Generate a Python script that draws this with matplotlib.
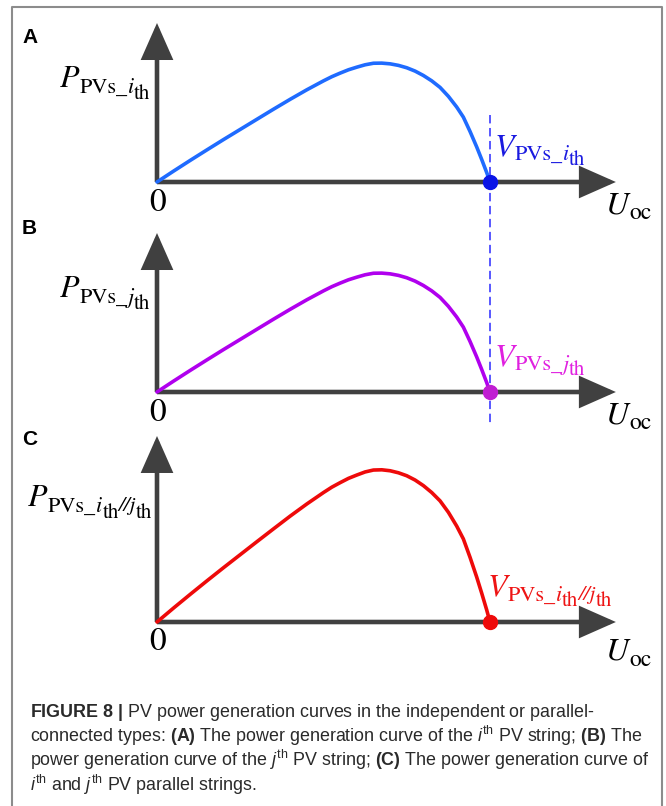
import matplotlib
matplotlib.use("Agg")
import matplotlib.pyplot as plt
from matplotlib.lines import Line2D

plt.rcParams["mathtext.fontset"] = "custom"
plt.rcParams["mathtext.rm"] = "Liberation Sans"
plt.rcParams["mathtext.it"] = "Liberation Sans:italic"
plt.rcParams["mathtext.bf"] = "Liberation Sans:bold"

# ---- data: P-U curves, voltage normalised to the open-circuit voltage ----
u_norm = [0.00, 0.05, 0.10, 0.15, 0.20, 0.25, 0.30, 0.35, 0.40, 0.45, 0.50,
          0.525, 0.55, 0.575, 0.60, 0.625, 0.65, 0.675, 0.70, 0.725, 0.75,
          0.775, 0.80, 0.825, 0.85, 0.875, 0.90, 0.92, 0.94, 0.96, 0.975,
          0.99, 1.00]
p_string_i = [0.000, 0.092, 0.182, 0.270, 0.357, 0.442, 0.527, 0.612, 0.695,
              0.775, 0.850, 0.885, 0.915, 0.943, 0.965, 0.985, 0.998, 0.999,
              0.993, 0.980, 0.960, 0.932, 0.895, 0.850, 0.795, 0.720, 0.630,
              0.545, 0.425, 0.295, 0.190, 0.080, 0.000]
p_string_j = [0.000, 0.092, 0.182, 0.270, 0.357, 0.442, 0.527, 0.612, 0.695,
              0.775, 0.850, 0.885, 0.915, 0.943, 0.965, 0.985, 0.998, 0.999,
              0.993, 0.980, 0.960, 0.932, 0.895, 0.850, 0.795, 0.720, 0.630,
              0.545, 0.425, 0.295, 0.190, 0.080, 0.000]
p_parallel = [0.000, 0.118, 0.233, 0.346, 0.457, 0.566, 0.675, 0.783, 0.890,
              0.992, 1.088, 1.133, 1.171, 1.207, 1.235, 1.261, 1.277, 1.279,
              1.271, 1.254, 1.229, 1.193, 1.146, 1.088, 1.018, 0.922, 0.806,
              0.698, 0.544, 0.378, 0.243, 0.102, 0.000]
u_oc = 1.0

panel_letters = ["A", "B", "C"]
# label pieces: (text, size in pt, drop below the main baseline in px, italic)
p_labels = [
    [("P", 23, 0, True), ("PVs_", 16, 6, False), ("i", 16, 6, True), ("th", 15, 12, False)],
    [("P", 23, 0, True), ("PVs_", 16, 6, False), ("j", 16, 6, True), ("th", 15, 12, False)],
    [("P", 23, 0, True), ("PVs_", 16, 6, False), ("i", 16, 6, True), ("th", 15, 12, False),
     ("//j", 15, 5, True), ("th", 15, 12, False)],
]
v_labels = [
    [("V", 23, 0, True), ("PVs_", 16, 5, False), ("i", 16, 5, True), ("th", 15, 10, False)],
    [("V", 23, 0, True), ("PVs_", 16, 5, False), ("j", 16, 5, True), ("th", 15, 10, False)],
    [("V", 23, 0, True), ("PVs_", 16, 6, False), ("i", 16, 6, True), ("th", 15, 11, False),
     ("//j", 15, 5, True), ("th", 15, 11, False)],
]
u_label = [("U", 23, 0, True), ("oc", 17, 6, False)]

caption_lines = [
    r"$\mathbf{FIGURE\ 8\ |}$ PV power generation curves in the independent or parallel-",
    r"connected types: $\mathbf{(A)}$ The power generation curve of the $i^{\mathrm{th}}$ PV string; $\mathbf{(B)}$ The",
    r"power generation curve of the $j^{\mathrm{th}}$ PV string; $\mathbf{(C)}$ The power generation curve of",
    r"$i^{\mathrm{th}}$ and $j^{\mathrm{th}}$ PV parallel strings.",
]

# ---- layout (pixels) ----
W, H, DPI = 666, 806, 100
SX, SY = 333.0, 119.0          # pixels per data unit
OX = 157.0                     # x pixel of the origin
origins_y = [182.0, 392.0, 622.0]
y_tips = [1.336, 1.336, 1.563]  # y-axis arrow length (data units)
x_tip = 1.378

curve_colors = ["#1f6bff", "#b000ee", "#ee0a0a"]
dot_colors = ["#0a14e6", "#c01ed2", "#ee0a0a"]
label_colors = ["#1a1ae0", "#e020e0", "#ee1414"]
axis_color = "#404040"

fig = plt.figure(figsize=(W / DPI, H / DPI), dpi=DPI)
fig.patch.set_facecolor("white")
renderer = fig.canvas.get_renderer()


def fxy(px, py):
    return px / W, 1 - py / H


def rich_label(x, yb, pieces, color="black", ha="left"):
    placed = []
    for txt, size, drop, italic in pieces:
        t = fig.text(0, 0, txt, fontfamily="STIXGeneral",
                     fontstyle="italic" if italic else "normal",
                     fontsize=size, color=color, va="baseline", ha="left")
        placed.append((t, drop, t.get_window_extent(renderer).width))
    total = sum(w for _, _, w in placed)
    cx = x - total if ha == "right" else x
    for t, drop, w in placed:
        t.set_position(fxy(cx, yb + drop))
        cx += w


def panel_axes(oy):
    xmin, xmax, ymin, ymax = -0.42, 1.52, -0.40, 1.62
    left = OX + xmin * SX
    right = OX + xmax * SX
    top = oy - ymax * SY
    bottom = oy - ymin * SY
    ax = fig.add_axes([left / W, 1 - bottom / H, (right - left) / W, (bottom - top) / H])
    ax.set_xlim(xmin, xmax)
    ax.set_ylim(ymin, ymax)
    ax.axis("off")
    return ax


series = [p_string_i, p_string_j, p_parallel]
letter_base = [43, 234, 445]
p_label_base = [87, 297, 506]
p_label_right = [150, 150, 152]
v_label_pos = [(495, 155), (495, 365), (488, 595)]
zero_base = [211, 421, 650]
u_base = [213, 423, 660]

axes = []
for k, oy in enumerate(origins_y):
    ax = panel_axes(oy)
    axes.append(ax)
    arrow = dict(arrowstyle="-|>,head_length=0.95,head_width=0.42",
                 mutation_scale=22, lw=3.3, color=axis_color,
                 shrinkA=0, shrinkB=0, joinstyle="miter", capstyle="butt")
    ax.annotate("", xy=(x_tip, 0), xytext=(0, 0), arrowprops=arrow,
                annotation_clip=False, zorder=2)
    ax.annotate("", xy=(0, y_tips[k]), xytext=(0, 0), arrowprops=arrow,
                annotation_clip=False, zorder=2)
    ax.plot(u_norm, series[k], color=curve_colors[k], lw=2.6,
            solid_capstyle="round", solid_joinstyle="round", zorder=4,
            clip_on=False)
    ax.plot([u_norm[-1]], [series[k][-1]], "o", color=dot_colors[k], ms=10,
            zorder=6, clip_on=False)

    fig.text(*fxy(22, letter_base[k]), panel_letters[k], fontfamily="Liberation Sans",
             fontweight="bold", fontsize=15, va="baseline", ha="left")
    rich_label(p_label_right[k], p_label_base[k], p_labels[k], ha="right")
    rich_label(*v_label_pos[k], v_labels[k], color=label_colors[k])
    fig.text(*fxy(158, zero_base[k]), "0", fontfamily="STIXGeneral",
             fontsize=24, va="baseline", ha="center")
    rich_label(606, u_base[k], u_label)

# open-circuit voltage marker line shared by panels A and B
ax_a = axes[0]
ax_a.plot([u_oc, u_oc], [(origins_y[0] - 115) / SY, (origins_y[0] - 425) / SY],
          ls=(0, (5.5, 3.0)), lw=1.1, color="#2a2aff", zorder=3, clip_on=False)

# frame
fig.add_artist(Line2D([12 / W, 12 / W, 662 / W, 662 / W],
                      [0, 1 - 7 / H, 1 - 7 / H, 0],
                      transform=fig.transFigure, color="#8c8c8c", lw=1.5))

# caption
cap_base = [717, 742, 766, 791]
for line, yb in zip(caption_lines, cap_base):
    fig.text(*fxy(30, yb), line, fontfamily="Liberation Sans", fontsize=12.9,
             math_fontfamily="custom", va="baseline", ha="left", color="#2a2a2a")

fig.savefig("out.png", dpi=DPI, facecolor="white")
